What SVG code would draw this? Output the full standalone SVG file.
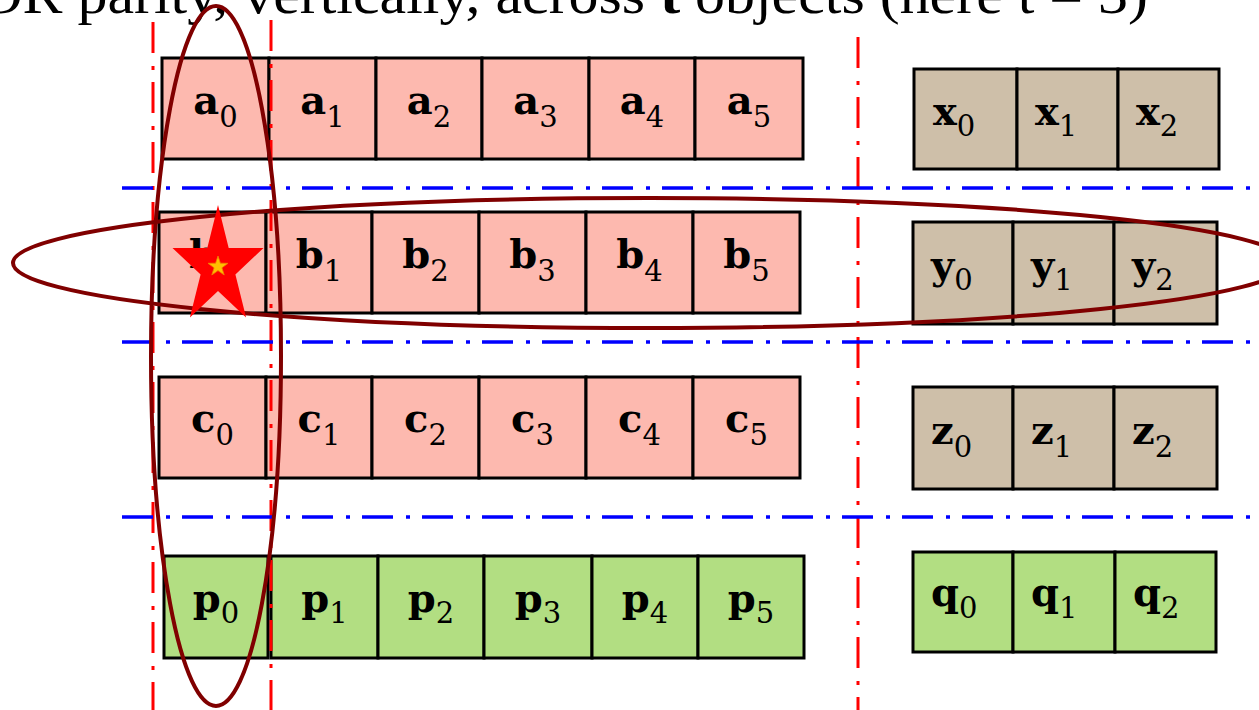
<svg xmlns="http://www.w3.org/2000/svg" width="1259" height="710" viewBox="0 0 1259 710">
<style>
.c{stroke:#000;stroke-width:3}
.pk{fill:#FDB9AF}
.tn{fill:#CEBFA9}
.gr{fill:#B2DE82}
.lt{font-family:"DejaVu Serif",serif;font-weight:bold;font-size:40px;fill:#000}
.sb{font-family:"DejaVu Serif",serif;font-size:29px;fill:#000}
.bl{stroke:#0000FF;stroke-width:3.5;stroke-dasharray:31 13 4 12;fill:none}
.rd{stroke:#FF0000;stroke-width:3;stroke-dasharray:31 13 4 12;fill:none}
.el{fill:none;stroke:#800000;stroke-width:4}
.ttl{font-family:"Liberation Serif",serif;font-size:54px;fill:#000}
</style>
<rect width="1259" height="710" fill="#fff"/>
<text class="ttl" x="-64" y="13" textLength="1212" lengthAdjust="spacingAndGlyphs">XOR parity, vertically, across <tspan font-weight="bold">t</tspan> objects (here t = 3)</text>

<g id="row-a">
<g id="a0"><rect class="c pk" x="162" y="58" width="107" height="101"/><text x="215.5" y="114" text-anchor="middle"><tspan class="lt">a</tspan><tspan class="sb" dy="13">0</tspan></text></g>
<g id="a1"><rect class="c pk" x="269" y="58" width="107" height="101"/><text x="322.5" y="114" text-anchor="middle"><tspan class="lt">a</tspan><tspan class="sb" dy="13">1</tspan></text></g>
<g id="a2"><rect class="c pk" x="376" y="58" width="106" height="101"/><text x="429" y="114" text-anchor="middle"><tspan class="lt">a</tspan><tspan class="sb" dy="13">2</tspan></text></g>
<g id="a3"><rect class="c pk" x="482" y="58" width="107" height="101"/><text x="535.5" y="114" text-anchor="middle"><tspan class="lt">a</tspan><tspan class="sb" dy="13">3</tspan></text></g>
<g id="a4"><rect class="c pk" x="589" y="58" width="106" height="101"/><text x="642" y="114" text-anchor="middle"><tspan class="lt">a</tspan><tspan class="sb" dy="13">4</tspan></text></g>
<g id="a5"><rect class="c pk" x="695" y="58" width="108" height="101"/><text x="749" y="114" text-anchor="middle"><tspan class="lt">a</tspan><tspan class="sb" dy="13">5</tspan></text></g>
</g>

<g id="row-b">
<g id="b0"><rect class="c pk" x="159" y="212" width="107" height="101"/><text x="212.5" y="268" text-anchor="middle"><tspan class="lt">b</tspan><tspan class="sb" dy="13">0</tspan></text></g>
<g id="b1"><rect class="c pk" x="266" y="212" width="106" height="101"/><text x="319" y="268" text-anchor="middle"><tspan class="lt">b</tspan><tspan class="sb" dy="13">1</tspan></text></g>
<g id="b2"><rect class="c pk" x="372" y="212" width="107" height="101"/><text x="425.5" y="268" text-anchor="middle"><tspan class="lt">b</tspan><tspan class="sb" dy="13">2</tspan></text></g>
<g id="b3"><rect class="c pk" x="479" y="212" width="107" height="101"/><text x="532.5" y="268" text-anchor="middle"><tspan class="lt">b</tspan><tspan class="sb" dy="13">3</tspan></text></g>
<g id="b4"><rect class="c pk" x="586" y="212" width="107" height="101"/><text x="639.5" y="268" text-anchor="middle"><tspan class="lt">b</tspan><tspan class="sb" dy="13">4</tspan></text></g>
<g id="b5"><rect class="c pk" x="693" y="212" width="107" height="101"/><text x="746.5" y="268" text-anchor="middle"><tspan class="lt">b</tspan><tspan class="sb" dy="13">5</tspan></text></g>
</g>

<g id="row-c">
<g id="c0"><rect class="c pk" x="159" y="377" width="107" height="101"/><text x="212.5" y="432" text-anchor="middle"><tspan class="lt">c</tspan><tspan class="sb" dy="13">0</tspan></text></g>
<g id="c1"><rect class="c pk" x="266" y="377" width="106" height="101"/><text x="319" y="432" text-anchor="middle"><tspan class="lt">c</tspan><tspan class="sb" dy="13">1</tspan></text></g>
<g id="c2"><rect class="c pk" x="372" y="377" width="107" height="101"/><text x="425.5" y="432" text-anchor="middle"><tspan class="lt">c</tspan><tspan class="sb" dy="13">2</tspan></text></g>
<g id="c3"><rect class="c pk" x="479" y="377" width="107" height="101"/><text x="532.5" y="432" text-anchor="middle"><tspan class="lt">c</tspan><tspan class="sb" dy="13">3</tspan></text></g>
<g id="c4"><rect class="c pk" x="586" y="377" width="107" height="101"/><text x="639.5" y="432" text-anchor="middle"><tspan class="lt">c</tspan><tspan class="sb" dy="13">4</tspan></text></g>
<g id="c5"><rect class="c pk" x="693" y="377" width="107" height="101"/><text x="746.5" y="432" text-anchor="middle"><tspan class="lt">c</tspan><tspan class="sb" dy="13">5</tspan></text></g>
</g>

<g id="row-p">
<g id="p0"><rect class="c gr" x="164" y="556" width="104" height="102"/><text x="216" y="612" text-anchor="middle"><tspan class="lt">p</tspan><tspan class="sb" dy="11">0</tspan></text></g>
<g id="p1"><rect class="c gr" x="271" y="556" width="107" height="102"/><text x="324.5" y="612" text-anchor="middle"><tspan class="lt">p</tspan><tspan class="sb" dy="11">1</tspan></text></g>
<g id="p2"><rect class="c gr" x="378" y="556" width="106" height="102"/><text x="431" y="612" text-anchor="middle"><tspan class="lt">p</tspan><tspan class="sb" dy="11">2</tspan></text></g>
<g id="p3"><rect class="c gr" x="484" y="556" width="108" height="102"/><text x="538" y="612" text-anchor="middle"><tspan class="lt">p</tspan><tspan class="sb" dy="11">3</tspan></text></g>
<g id="p4"><rect class="c gr" x="592" y="556" width="106" height="102"/><text x="645" y="612" text-anchor="middle"><tspan class="lt">p</tspan><tspan class="sb" dy="11">4</tspan></text></g>
<g id="p5"><rect class="c gr" x="698" y="556" width="106" height="102"/><text x="751" y="612" text-anchor="middle"><tspan class="lt">p</tspan><tspan class="sb" dy="11">5</tspan></text></g>
</g>

<g id="row-x">
<g id="x0"><rect class="c tn" x="914" y="69" width="103" height="100"/><text x="933" y="125"><tspan class="lt">x</tspan><tspan class="sb" dy="11">0</tspan></text></g>
<g id="x1"><rect class="c tn" x="1017" y="69" width="101" height="100"/><text x="1035" y="125"><tspan class="lt">x</tspan><tspan class="sb" dy="11">1</tspan></text></g>
<g id="x2"><rect class="c tn" x="1118" y="69" width="101" height="100"/><text x="1136" y="125"><tspan class="lt">x</tspan><tspan class="sb" dy="11">2</tspan></text></g>
</g>

<g id="row-y">
<g id="y0"><rect class="c tn" x="913" y="222" width="100" height="102"/><text x="931" y="279"><tspan class="lt">y</tspan><tspan class="sb" dy="11">0</tspan></text></g>
<g id="y1"><rect class="c tn" x="1013" y="222" width="101" height="102"/><text x="1031" y="279"><tspan class="lt">y</tspan><tspan class="sb" dy="11">1</tspan></text></g>
<g id="y2"><rect class="c tn" x="1114" y="222" width="103" height="102"/><text x="1132" y="279"><tspan class="lt">y</tspan><tspan class="sb" dy="11">2</tspan></text></g>
</g>

<g id="row-z">
<g id="z0"><rect class="c tn" x="913" y="387" width="100" height="102"/><text x="931" y="444"><tspan class="lt">z</tspan><tspan class="sb" dy="13">0</tspan></text></g>
<g id="z1"><rect class="c tn" x="1013" y="387" width="101" height="102"/><text x="1031" y="444"><tspan class="lt">z</tspan><tspan class="sb" dy="13">1</tspan></text></g>
<g id="z2"><rect class="c tn" x="1114" y="387" width="103" height="102"/><text x="1132" y="444"><tspan class="lt">z</tspan><tspan class="sb" dy="13">2</tspan></text></g>
</g>

<g id="row-q">
<g id="q0"><rect class="c gr" x="913" y="552" width="100" height="100"/><text x="931" y="606"><tspan class="lt">q</tspan><tspan class="sb" dy="12">0</tspan></text></g>
<g id="q1"><rect class="c gr" x="1013" y="552" width="102" height="100"/><text x="1031" y="606"><tspan class="lt">q</tspan><tspan class="sb" dy="12">1</tspan></text></g>
<g id="q2"><rect class="c gr" x="1115" y="552" width="101" height="100"/><text x="1133" y="606"><tspan class="lt">q</tspan><tspan class="sb" dy="12">2</tspan></text></g>
</g>

<g id="connectors">
<line class="rd" x1="153" y1="22" x2="153" y2="710"/>
<line class="rd" x1="271" y1="20" x2="271" y2="710"/>
<line class="rd" x1="858" y1="37" x2="858" y2="710"/>
<line class="bl" x1="122" y1="188" x2="1259" y2="188"/>
<line class="bl" x1="122" y1="342" x2="1259" y2="342"/>
<line class="bl" x1="122" y1="517" x2="1259" y2="517"/>
<ellipse class="el" cx="216" cy="356" rx="65" ry="350"/>
<ellipse class="el" cx="650" cy="263" rx="637" ry="65"/>
</g>

<g id="star">
<polygon fill="#FF0000" points="218,205 228.7,248 263.5,248 235.4,274.5 246.1,317.5 218,291 189.9,317.5 200.6,274.5 172.5,248 207.3,248"/>
<polygon fill="#FFC000" stroke="#F08000" stroke-width="0.8" points="218,256 220.4,263.2 228,263.3 221.9,267.8 224.2,275 218,270.6 211.8,275 214.1,267.8 208,263.3 215.6,263.2"/>
</g>
</svg>
